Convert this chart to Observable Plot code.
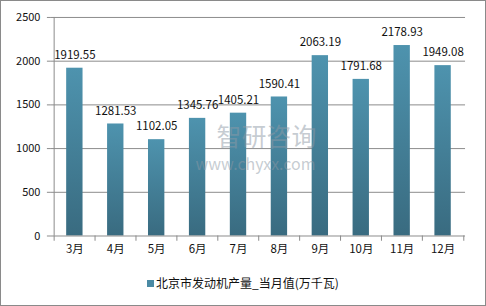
<!DOCTYPE html>
<html><head><meta charset="utf-8">
<script src="https://cdn.jsdelivr.net/npm/d3@7"></script>
<script src="https://cdn.jsdelivr.net/npm/@observablehq/plot@0.6"></script>
<style>
body{margin:0;background:#fff;}
#wrap{position:relative;width:486px;height:306px;box-sizing:border-box;border:1px solid #8a8a8a;background:#fff;font-family:"Noto Sans CJK SC","DejaVu Sans",sans-serif;}
#chart{position:absolute;left:-1px;top:-1px;}
#legend{position:absolute;left:0;width:484px;top:273px;text-align:center;font-size:12px;color:#111;}
#legend span.sw{display:inline-block;width:7px;height:7px;background:#4a8aa4;margin-right:2px;vertical-align:1px;}
</style></head><body>
<div id="wrap"><div id="chart"></div><div id="legend"><span class="sw"></span>北京市发动机产量_当月值(万千瓦)</div></div>
<script>
const months = ["3月","4月","5月","6月","7月","8月","9月","10月","11月","12月"];
const values = [1919.55,1281.53,1102.05,1345.76,1405.21,1590.41,2063.19,1791.68,2178.93,1949.08];
const yTicks = [0,500,1000,1500,2000,2500];
const seriesName = "北京市发动机产量_当月值(万千瓦)";

const data = months.map((m,i)=>({month:m, value:values[i]}));
const W=486, H=262, mL=51, mR=20, mT=17, mB=26;
const step=(W-mL-mR)/months.length;

const plot = Plot.plot({
  width:W, height:H, marginLeft:mL, marginRight:mR, marginTop:mT, marginBottom:mB,
  style:{fontFamily:'"Noto Sans CJK SC","DejaVu Sans",sans-serif', fontSize:"11px", color:"#111", background:"transparent"},
  x:{domain:months, padding:0, label:null},
  y:{domain:[0,2500], ticks:yTicks, label:null},
  marks:[
    Plot.gridY(yTicks.filter(t=>t>0), {stroke:"#8c8c8c", strokeOpacity:1}),
    Plot.axisY(yTicks, {tickSize:4, tickPadding:7, stroke:"#8c8c8c", fontSize:11, tickFormat:d=>String(d)}),
    Plot.axisX({tickSize:0, tickPadding:9, fontSize:11.5}),
    Plot.barY(data, {x:"month", y:"value", fill:"url(#barGrad)", insetLeft:12.3, insetRight:12.3}),
    Plot.text(["智研咨询"], {frameAnchor:"middle", dx:8, dy:11, fontSize:25, fill:"#8d99a5", fillOpacity:0.5}),
    Plot.text(["www.chyxx.com"], {frameAnchor:"middle", dx:-3, dy:38, fontSize:16, fill:"#8d99a5", fillOpacity:0.5, letterSpacing:"2px"}),
    Plot.ruleY([0], {stroke:"#8c8c8c"}),
    Plot.ruleX(months, {x:d=>d, y1:0, y2:-60, dx:-step/2, stroke:"#8c8c8c"}),
    Plot.ruleX([months[months.length-1]], {x:d=>d, y1:0, y2:-60, dx:step/2, stroke:"#8c8c8c"}),
    Plot.ruleX([months[0]], {x:d=>d, y1:0, y2:2500, dx:-step/2, stroke:"#8c8c8c"}),
    Plot.text(data, {x:"month", y:"value", text:d=>d.value.toFixed(2), dy:-13, fontSize:11.5, fill:"#111"})
  ]
});
const ns="http://www.w3.org/2000/svg";
const defs=document.createElementNS(ns,"defs");
defs.innerHTML='<linearGradient id="barGrad" x1="0" y1="0" x2="0" y2="1"><stop offset="0" stop-color="#4e93ae"/><stop offset="1" stop-color="#396b80"/></linearGradient>';
plot.insertBefore(defs, plot.firstChild);
document.getElementById("chart").appendChild(plot);
</script></body></html>
